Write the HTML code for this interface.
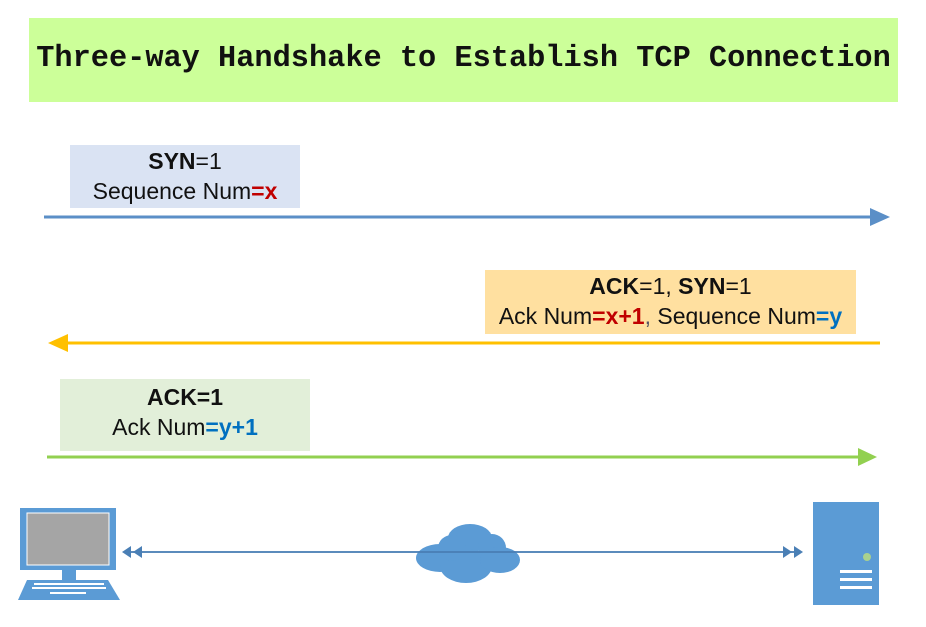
<!DOCTYPE html>
<html><head><meta charset="utf-8"><style>
body{margin:0;width:926px;height:627px;background:#fff;position:relative;overflow:hidden;font-family:"Liberation Sans",sans-serif}
.a{position:absolute}
.t{position:absolute;left:29px;top:18px;width:869px;height:84px;background:#ccff99;font-family:"Liberation Mono",monospace;font-weight:bold;font-size:30.3px;line-height:82px;text-align:center;color:#111;white-space:nowrap}
.box{position:absolute;text-align:center;font-size:23px;line-height:30px;color:#111;white-space:nowrap}
.r{color:#c00000;font-weight:bold}.b{color:#0070c0;font-weight:bold}
</style></head><body>
<div class="t">Three-way Handshake to Establish TCP Connection</div>
<div class="box" style="left:70px;top:145px;width:230px;height:62px;background:#dae3f3;padding-top:1px"><b>SYN</b>=1<br>Sequence Num<span class="r">=x</span></div>
<div class="box" style="left:485px;top:270px;width:371px;height:63px;background:#ffe0a0;padding-top:1px"><b>ACK</b>=1, <b>SYN</b>=1<br>Ack Num<span class="r">=x+1</span><span style="color:#556">,</span> Sequence Num<span class="b">=y</span></div>
<div class="box" style="left:60px;top:379px;width:250px;height:69px;background:#e2efd9;padding-top:3px"><b>ACK=1</b><br>Ack Num<span class="b">=y+1</span></div>
<svg class="a" style="left:0;top:0" width="926" height="627">
<line x1="44" y1="217" x2="872" y2="217" stroke="#5b8fc7" stroke-width="3"/>
<polygon points="870,208 890,217 870,226" fill="#5b8fc7"/>
<line x1="66" y1="343" x2="880" y2="343" stroke="#ffc000" stroke-width="3"/>
<polygon points="68,334 48,343 68,352" fill="#ffc000"/>
<line x1="47" y1="457" x2="860" y2="457" stroke="#92d050" stroke-width="3"/>
<polygon points="858,448 877,457 858,466" fill="#92d050"/>
<rect x="20" y="508" width="96" height="62" fill="#5b9bd5"/>
<rect x="27" y="513" width="82" height="52" fill="#a5a5a5" stroke="#fff" stroke-width="1"/>
<rect x="62" y="570" width="14" height="10" fill="#5b9bd5"/>
<polygon points="27,580 108,580 120,600 18,600" fill="#5b9bd5"/>
<g fill="#fff"><rect x="34" y="583" width="70" height="2"/><rect x="32" y="587" width="74" height="2"/><rect x="50" y="592" width="36" height="2"/></g>
<g fill="#5b9bd5">
<ellipse cx="470" cy="538" rx="22" ry="14"/><ellipse cx="492" cy="548" rx="14" ry="14"/><ellipse cx="440" cy="558" rx="24" ry="14"/>
<ellipse cx="466" cy="566" rx="26" ry="17"/><ellipse cx="500" cy="560" rx="20" ry="13"/><ellipse cx="452" cy="548" rx="14" ry="13"/>
</g>
<line x1="130" y1="552" x2="795" y2="552" stroke="#4a7fb5" stroke-width="2" opacity="0.9"/>
<polygon points="122,552 131,546 131,558" fill="#4a7fb5"/><polygon points="133,552 142,546 142,558" fill="#4a7fb5"/>
<polygon points="803,552 794,546 794,558" fill="#4a7fb5"/><polygon points="792,552 783,546 783,558" fill="#4a7fb5"/>
<rect x="813" y="502" width="66" height="103" fill="#5b9bd5"/>
<ellipse cx="867" cy="557" rx="4" ry="4" fill="#a9d18e"/>
<g fill="#fff"><rect x="840" y="570" width="32" height="3"/><rect x="840" y="578" width="32" height="3"/><rect x="840" y="586" width="32" height="3"/></g>
</svg>
</body></html>
